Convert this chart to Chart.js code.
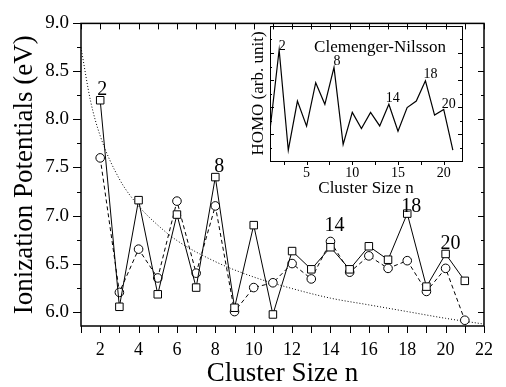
<!DOCTYPE html>
<html>
<head>
<meta charset="utf-8">
<script src="https://cdn.jsdelivr.net/npm/chart.js@4.4.0/dist/chart.umd.min.js"></script>
<style>
  body { margin: 0; background: #fff; }
  #wrap { position: relative; width: 506px; height: 387px; }
  #inset { position: absolute; left: 240px; top: 20px; }
</style>
</head>
<body>
<div id="wrap">
  <canvas id="main" width="506" height="387"></canvas>
  <canvas id="inset" width="230" height="180"></canvas>
</div>
<script>
// data
const clusterSize = [2, 3, 4, 5, 6, 7, 8, 9, 10, 11, 12, 13, 14, 15, 16, 17, 18, 19, 20, 21];
const ipSquares = [8.20, 6.05, 7.16, 6.18, 7.01, 6.25, 7.40, 6.04, 6.90, 5.97, 6.63, 6.44, 6.67, 6.44, 6.68, 6.54, 7.02, 6.26, 6.60, 6.32];
const ipCircles = [7.60, 6.20, 6.65, 6.35, 7.15, 6.40, 7.10, 6.00, 6.25, 6.30, 6.50, 6.34, 6.73, 6.41, 6.58, 6.45, 6.53, 6.21, 6.45, 5.91];
const curveN = [1, 1.5, 2, 3, 4, 5, 6, 8, 10, 12, 14, 16, 18, 20, 22];
const curveIP = [8.75, 8.19, 7.83, 7.38, 7.10, 6.90, 6.74, 6.52, 6.36, 6.24, 6.14, 6.07, 6.00, 5.93, 5.87];
const homoN = [1, 2, 3, 4, 5, 6, 7, 8, 9, 10, 11, 12, 13, 14, 15, 16, 17, 18, 19, 20, 21];
const homo = [1.15, 4.12, 0.40, 2.22, 1.29, 2.90, 2.10, 3.47, 0.61, 1.80, 1.20, 1.80, 1.30, 2.10, 1.10, 1.98, 2.22, 2.97, 1.70, 1.91, 0.40];
const yTicks = [6.0, 6.5, 7.0, 7.5, 8.0, 8.5, 9.0];
const insetXTicks = [2.5, 5, 7.5, 10, 12.5, 15, 17.5, 20];
const magicNumbers = [2, 8, 14, 18, 20];

const serif = 'Liberation Serif';
const pts = (xs, ys) => xs.map((x, i) => ({ x: x, y: ys[i] }));

function line(ctx, x1, y1, x2, y2) {
  ctx.moveTo(x1, y1);
  ctx.lineTo(x2, y2);
}

// frame + tick marks for the main plot
const mainFrame = {
  id: 'mainFrame',
  afterDraw(chart) {
    const { ctx, chartArea: a, scales: { x, y } } = chart;
    ctx.save();
    ctx.strokeStyle = '#000';
    ctx.lineWidth = 1.5;
    ctx.strokeRect(a.left, a.top, a.right - a.left, a.bottom - a.top);
    ctx.lineWidth = 1;
    ctx.beginPath();
    for (let n = 1; n <= 22; n++) {
      const px = Math.round(x.getPixelForValue(n)) + 0.5;
      line(ctx, px, a.bottom, px, a.bottom + 7);
      line(ctx, px, a.top, px, a.top + 6);
    }
    for (let v = 6.0; v <= 9.001; v += 0.25) {
      const py = Math.round(y.getPixelForValue(v)) + 0.5;
      const major = Math.abs(v * 2 - Math.round(v * 2)) < 0.01;
      line(ctx, a.left - (major ? 8 : 4), py, a.left, py);
      line(ctx, a.right - (major ? 6 : 3), py, a.right, py);
    }
    ctx.stroke();

    // magic number labels
    const offs = { 2: [2, -11], 8: [4, -10], 14: [4, -21], 18: [4, -7], 20: [5, -10] };
    ctx.fillStyle = '#000';
    ctx.font = '20px "' + serif + '"';
    ctx.textAlign = 'center';
    ctx.textBaseline = 'middle';
    magicNumbers.forEach(n => {
      const i = clusterSize.indexOf(n);
      const px = x.getPixelForValue(n) + offs[n][0];
      const py = y.getPixelForValue(ipSquares[i]) + offs[n][1];
      ctx.fillText(String(n), px, py);
    });
    ctx.restore();
  }
};

new Chart(document.getElementById('main'), {
  type: 'line',
  data: {
    datasets: [
      {
        data: pts(clusterSize, ipSquares),
        borderColor: '#000',
        borderWidth: 1,
        pointStyle: 'rect',
        pointRadius: 5.3,
        pointBackgroundColor: '#fff',
        pointBorderColor: '#000',
        pointBorderWidth: 1
      },
      {
        data: pts(clusterSize, ipCircles),
        borderColor: '#000',
        borderWidth: 1,
        borderDash: [4, 3],
        pointStyle: 'circle',
        pointRadius: 4.3,
        pointBackgroundColor: '#fff',
        pointBorderColor: '#000',
        pointBorderWidth: 1
      },
      {
        data: pts(curveN, curveIP),
        borderColor: '#000',
        borderWidth: 1,
        borderDash: [1, 2],
        pointRadius: 0,
        cubicInterpolationMode: 'monotone'
      }
    ]
  },
  options: {
    responsive: false,
    animation: false,
    events: [],
    layout: { padding: { left: 0, right: 11, top: 14, bottom: 0 } },
    plugins: { legend: { display: false }, tooltip: { enabled: false } },
    scales: {
      x: {
        type: 'linear',
        min: 1,
        max: 22,
        grid: { display: false, drawTicks: false },
        border: { display: false },
        afterFit: s => { s.height = 61; },
        ticks: {
          stepSize: 1,
          autoSkip: false,
          maxRotation: 0,
          padding: 13,
          color: '#000',
          font: { family: serif, size: 18 },
          callback: v => (v % 2 === 0 ? String(v) : '')
        },
        title: {
          display: true,
          text: 'Cluster Size n',
          color: '#000',
          font: { family: serif, size: 27, lineHeight: 1 },
          padding: { top: 0, bottom: 0 }
        }
      },
      y: {
        min: 5.85,
        max: 9.0,
        grid: { display: false, drawTicks: false },
        border: { display: false },
        afterFit: s => { s.width = 81; },
        afterBuildTicks: s => { s.ticks = yTicks.map(v => ({ value: v })); },
        ticks: {
          padding: 12,
          color: '#000',
          font: { family: serif, size: 19 },
          callback: v => v.toFixed(1)
        },
        title: {
          display: true,
          text: 'Ionization Potentials (eV)',
          color: '#000',
          font: { family: serif, size: 27, lineHeight: 1 },
          padding: { top: 11, bottom: 0 }
        }
      }
    }
  },
  plugins: [mainFrame]
});

// inset: Clemenger-Nilsson HOMO
const insetFrame = {
  id: 'insetFrame',
  afterDraw(chart) {
    const { ctx, chartArea: a, scales: { x, y } } = chart;
    ctx.save();
    ctx.strokeStyle = '#000';
    ctx.lineWidth = 1;
    ctx.strokeRect(a.left + 0.5, a.top + 0.5, a.right - a.left, a.bottom - a.top);
    ctx.beginPath();
    insetXTicks.forEach(n => {
      const px = Math.round(x.getPixelForValue(n)) + 0.5;
      line(ctx, px, a.bottom, px, a.bottom + 4);
    });
    for (let v = 0.5; v < 5; v += 0.5) {
      const py = Math.round(y.getPixelForValue(v)) + 0.5;
      const len = v % 1 === 0 ? 4 : 2;
      line(ctx, a.left, py, a.left + len, py);
      line(ctx, a.right - len, py, a.right, py);
    }
    ctx.stroke();

    ctx.fillStyle = '#000';
    ctx.textAlign = 'center';
    ctx.textBaseline = 'middle';
    ctx.font = '17px "' + serif + '"';
    ctx.fillText('Clemenger-Nilsson', (a.left + a.right) / 2 + 14, a.top + 22);

    const offs = { 2: [3, -3], 8: [3, -6], 14: [4, -6], 18: [5, -6], 20: [5, -5] };
    ctx.font = '14px "' + serif + '"';
    magicNumbers.forEach(n => {
      const i = homoN.indexOf(n);
      ctx.fillText(String(n), x.getPixelForValue(n) + offs[n][0], y.getPixelForValue(homo[i]) + offs[n][1]);
    });
    ctx.restore();
  }
};

new Chart(document.getElementById('inset'), {
  type: 'line',
  data: {
    datasets: [{
      data: pts(homoN, homo),
      borderColor: '#000',
      borderWidth: 1.2,
      pointRadius: 0
    }]
  },
  options: {
    responsive: false,
    animation: false,
    events: [],
    layout: { padding: { left: 0, right: 8, top: 6, bottom: 0 } },
    plugins: { legend: { display: false }, tooltip: { enabled: false } },
    scales: {
      x: {
        type: 'linear',
        min: 1,
        max: 22,
        grid: { display: false, drawTicks: false },
        border: { display: false },
        afterFit: s => { s.height = 39; },
        afterBuildTicks: s => { s.ticks = [5, 10, 15, 20].map(v => ({ value: v })); },
        ticks: {
          autoSkip: false,
          maxRotation: 0,
          padding: 4,
          color: '#000',
          font: { family: serif, size: 14 }
        },
        title: {
          display: true,
          text: 'Cluster Size n',
          color: '#000',
          font: { family: serif, size: 17, lineHeight: 1 },
          padding: { top: 0, bottom: 3 }
        }
      },
      y: {
        min: 0,
        max: 5,
        grid: { display: false, drawTicks: false },
        border: { display: false },
        afterFit: s => { s.width = 30; },
        ticks: { display: false },
        title: {
          display: true,
          text: 'HOMO (arb. unit)',
          color: '#000',
          font: { family: serif, size: 17, lineHeight: 1 },
          padding: { top: 10, bottom: 0 }
        }
      }
    }
  },
  plugins: [insetFrame]
});
</script>
</body>
</html>
